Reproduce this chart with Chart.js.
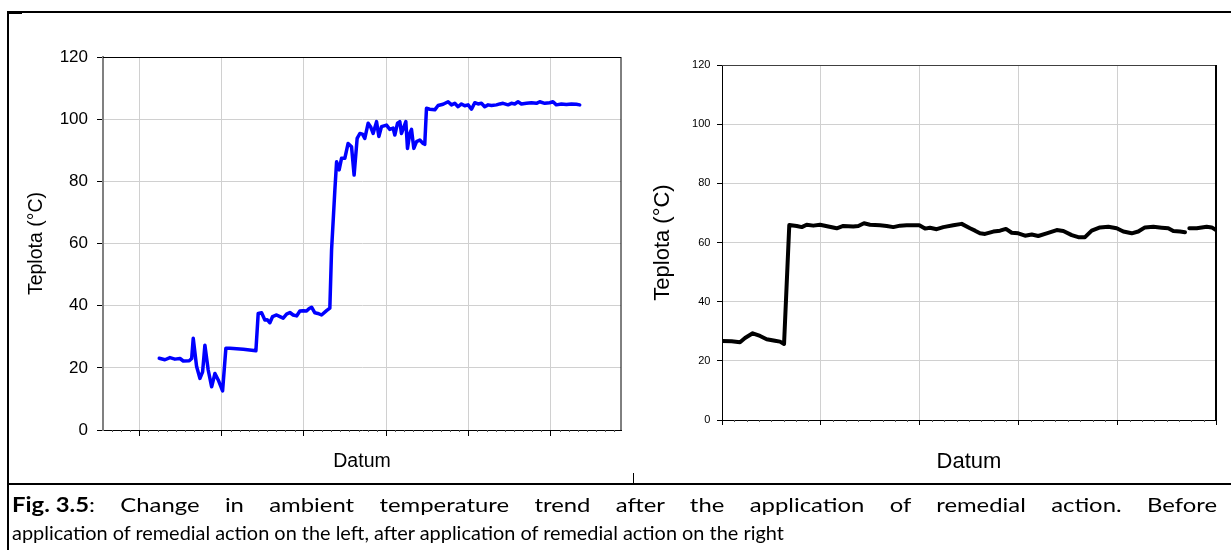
<!DOCTYPE html>
<html>
<head>
<meta charset="utf-8">
<script src="https://cdn.jsdelivr.net/npm/chart.js@4"></script>
<style>
  html, body { margin: 0; padding: 0; background: #fff; }
  body { width: 1231px; height: 550px; position: relative; overflow: hidden; }
  .ln { position: absolute; background: #000; }
  #cL { position: absolute; left: 0; top: 0; }
  #cR { position: absolute; left: 633px; top: 0; }
  .cap { position: absolute; left: 12px; font-family: Lato, "Open Sans", sans-serif;
         font-size: 20px; line-height: 27.6px; color: #000; transform-origin: 0 0; }
  #l1 { top: 491px; text-align: justify; text-align-last: justify; }
  #l1 b { display: inline-block; white-space: nowrap; }
  #l2 { top: 518.6px; text-align: left; white-space: nowrap; }
</style>
</head>
<body>
<canvas id="cL" width="633" height="484"></canvas>
<canvas id="cR" width="598" height="484"></canvas>
<div class="ln" style="left:7px;top:11px;width:1224px;height:2px"></div>
<div class="ln" style="left:7px;top:11px;width:15px;height:3px"></div>
<div class="ln" style="left:7px;top:11px;width:2px;height:539px"></div>
<div class="ln" style="left:7px;top:483px;width:1224px;height:2px"></div>
<div class="ln" style="left:633px;top:473px;width:1px;height:10px"></div>
<div class="cap" id="l1"><b>Fig. 3.5</b>: Change in ambient temperature trend after the application of remedial action. Before</div>
<div class="cap" id="l2">application of remedial action on the left, after application of remedial action on the right</div>
<script>
// ---------- data ----------
const yTicks = [0, 20, 40, 60, 80, 100, 120];
const xTicksLeft = [0, 1, 2, 3, 4, 5];
const xTicksRight = [0, 1, 2, 3, 4, 5];
const axisTitleY = "Teplota (°C)";
const axisTitleX = "Datum";

// Before remedial action (x in days, arbitrary origin)
const leftDays = [0.243,0.312,0.373,0.434,0.495,0.535,0.608,0.637,0.656,0.697,0.738,0.770,0.798,0.838,0.880,0.920,0.960,1.013,1.053,1.102,1.264,1.418,1.446,1.487,1.527,1.555,1.588,1.621,1.670,1.710,1.750,1.791,1.831,1.871,1.913,1.953,1.993,2.034,2.066,2.095,2.135,2.171,2.216,2.277,2.317,2.338,2.378,2.399,2.430,2.459,2.499,2.539,2.581,2.612,2.649,2.682,2.714,2.742,2.783,2.812,2.843,2.885,2.913,2.945,3.006,3.046,3.086,3.107,3.140,3.168,3.188,3.241,3.261,3.289,3.310,3.338,3.371,3.411,3.451,3.471,3.492,3.532,3.593,3.633,3.694,3.755,3.796,3.836,3.876,3.917,3.957,3.998,4.039,4.079,4.119,4.160,4.200,4.241,4.282,4.343,4.383,4.423,4.484,4.525,4.565,4.605,4.646,4.707,4.768,4.829,4.869,4.930,4.990,5.030,5.071,5.132,5.193,5.254,5.315,5.355];
const leftTemp = [23.1,22.6,23.3,22.8,23.0,22.2,22.3,23.0,29.5,20.4,16.6,18.7,27.3,19.3,13.9,18.2,16.1,12.6,26.3,26.3,26.0,25.5,37.5,37.7,35.4,35.5,34.5,36.5,37.0,36.5,36.0,37.3,37.8,37.0,36.7,38.3,38.4,38.3,39.1,39.5,37.7,37.5,37.0,38.4,39.2,57.9,77.2,86.3,83.7,87.4,87.4,92.2,91.1,82.0,93.8,95.4,95.2,93.8,98.7,97.6,95.4,99.2,94.4,97.6,98.1,96.7,97.1,94.9,98.7,99.2,95.4,99.2,90.6,95.4,96.7,90.6,92.8,93.3,92.2,91.9,103.5,103.2,103.0,104.4,104.8,105.6,104.6,105.1,104.0,104.9,104.3,104.6,103.2,105.3,104.9,105.1,104.0,104.6,104.4,104.6,104.9,105.1,104.6,105.1,104.9,105.6,104.9,105.1,105.3,105.1,105.6,105.1,105.3,105.6,104.6,104.9,104.7,104.9,104.8,104.6];

// After remedial action (null = gap in record)
const rightDays = [0.000,0.098,0.182,0.233,0.311,0.385,0.452,0.536,0.587,0.628,0.681,0.756,0.807,0.857,0.924,0.992,1.076,1.161,1.228,1.329,1.380,1.437,1.498,1.599,1.667,1.734,1.802,1.869,1.936,1.997,2.055,2.105,2.173,2.240,2.341,2.426,2.510,2.561,2.611,2.662,2.746,2.814,2.874,2.932,2.999,3.067,3.135,3.201,3.286,3.388,3.455,3.540,3.606,3.674,3.742,3.826,3.910,3.995,4.062,4.147,4.213,4.281,4.366,4.450,4.517,4.568,4.636,4.686,4.705,4.730,4.805,4.906,4.957,5.000];
const rightTemp = [26.7,26.6,26.3,27.7,29.3,28.4,27.3,26.8,26.5,25.7,65.9,65.6,65.2,66.0,65.7,66.0,65.4,64.8,65.6,65.4,65.6,66.5,66.0,65.8,65.6,65.2,65.7,65.8,65.8,65.8,64.7,65.0,64.5,65.2,65.8,66.3,64.8,64.0,63.1,62.9,63.7,64.0,64.6,63.3,63.1,62.3,62.7,62.2,63.1,64.2,63.9,62.5,61.8,61.8,64.0,65.1,65.3,64.8,63.7,63.1,63.7,65.1,65.3,65.0,64.8,63.9,63.7,63.5,null,64.8,64.8,65.3,65.1,64.2];

// ---------- helpers ----------
const FONT = "'Liberation Sans', Arial, sans-serif";

const framePlugin = {
  id: 'frame',
  afterDraw(chart, args, opts) {
    const {ctx, chartArea: a} = chart;
    const xs = chart.scales.x;
    ctx.save();
    ctx.strokeStyle = '#555';
    ctx.lineWidth = 1;
    const tk = xs.ticks.map(t => t.value);
    for (let i = 0; i < tk.length - 1 + (opts.extend ? 1 : 0); i++) {
      const v0 = tk[Math.min(i, tk.length - 1)];
      for (let k = 1; k < opts.minor; k++) {
        const v = v0 + k / opts.minor;
        if (v > xs.max || v < xs.min) continue;
        const px = Math.round(xs.getPixelForValue(v)) + 0.5;
        ctx.beginPath(); ctx.moveTo(px, a.bottom); ctx.lineTo(px, a.bottom + 2); ctx.stroke();
      }
    }
    for (let k = 1; k < opts.minor; k++) {
      const v = tk[0] - k / opts.minor;
      if (v < xs.min) break;
      const px = Math.round(xs.getPixelForValue(v)) + 0.5;
      ctx.beginPath(); ctx.moveTo(px, a.bottom); ctx.lineTo(px, a.bottom + 2); ctx.stroke();
    }
    ctx.strokeStyle = opts.topColor;
    ctx.lineWidth = 1;
    ctx.beginPath();
    ctx.moveTo(a.left, Math.round(a.top) + 0.5);
    ctx.lineTo(a.right, Math.round(a.top) + 0.5);
    ctx.stroke();
    ctx.strokeStyle = '#000';
    ctx.lineWidth = opts.rightWidth;
    ctx.beginPath();
    ctx.moveTo(a.right, a.top);
    ctx.lineTo(a.right, a.bottom);
    ctx.stroke();
    ctx.restore();
  }
};

function makeChart(id, cfg) {
  const xs = cfg.days.map((d, i) => ({x: d, y: cfg.temp[i]}));
  return new Chart(document.getElementById(id), {
    type: 'line',
    data: { datasets: [{
      data: xs, borderColor: cfg.color, borderWidth: cfg.lw, pointRadius: 0,
      tension: 0, spanGaps: false, borderJoinStyle: 'round', borderCapStyle: 'round', fill: false
    }]},
    options: {
      responsive: false, animation: false, devicePixelRatio: 1,
      layout: { padding: { left: 0, right: cfg.padRight, top: cfg.padTop, bottom: 0 } },
      plugins: { legend: { display: false }, tooltip: { enabled: false }, frame: cfg.frame },
      scales: {
        x: {
          type: 'linear', position: 'bottom', min: cfg.xmin, max: cfg.xmax,
          afterBuildTicks: s => { s.ticks = cfg.xTicks.map(v => ({value: v})); },
          afterFit: s => { s.height = cfg.xHeight; },
          ticks: { display: false },
          grid: { color: '#d0d0d0', lineWidth: 1, tickLength: cfg.tickLen, tickColor: '#000', drawTicks: true },
          border: { color: '#000', width: 1 },
          title: { display: true, text: axisTitleX, color: '#000',
                   font: { family: FONT, size: cfg.titleX }, padding: { top: 0, bottom: cfg.titleXPad } }
        },
        y: {
          min: 0, max: 120,
          afterBuildTicks: s => { s.ticks = yTicks.map(v => ({value: v})); },
          afterFit: s => { s.width = cfg.yWidth; },
          ticks: { color: '#000', font: { family: FONT, size: cfg.tickFont }, padding: cfg.tickPad },
          grid: { color: '#d0d0d0', lineWidth: 1, tickLength: cfg.tickLen, tickColor: '#000' },
          border: { color: cfg.yAxisColor, width: cfg.yAxisWidth },
          title: { display: true, text: axisTitleY, color: '#000',
                   font: { family: FONT, size: cfg.titleY }, padding: { top: cfg.titleYPad, bottom: 0 } }
        }
      }
    },
    plugins: [framePlugin]
  });
}

makeChart('cL', {
  days: leftDays, temp: leftTemp, color: '#0000ff', lw: 3.5,
  xmin: -0.441, xmax: 5.857, xTicks: xTicksLeft,
  padRight: 12, padTop: 57, xHeight: 54, yWidth: 103,
  tickLen: 6, tickFont: 17, tickPad: 9,
  titleX: 19.5, titleXPad: 10.3, titleY: 19.5, titleYPad: 25.3,
  yAxisColor: '#808080', yAxisWidth: 2,
  frame: { minor: 9, topColor: '#000', rightWidth: 1, extend: true }
});

makeChart('cR', {
  days: rightDays, temp: rightTemp, color: '#000000', lw: 4,
  xmin: 0, xmax: 5, xTicks: xTicksRight,
  padRight: 15, padTop: 65, xHeight: 64, yWidth: 89,
  tickLen: 5, tickFont: 11, tickPad: 6.6,
  titleX: 22, titleXPad: 8.8, titleY: 22, titleYPad: 16.8,
  yAxisColor: '#000', yAxisWidth: 1,
  frame: { minor: 8, topColor: '#404040', rightWidth: 2, extend: false }
});

// caption: fit the substitute font to the original line widths
(function () {
  const l1 = document.getElementById('l1');
  const l2 = document.getElementById('l2');
  const c = document.createElement('canvas').getContext('2d');
  c.font = "20px Lato";
  const w = c.measureText(l2.textContent).width;
  const s2 = 773 / w;
  const s1 = s2 * 1.2;
  l2.style.transform = 'scaleX(' + s2 + ')';
  l1.style.transform = 'scaleX(' + s1 + ')';
  l1.style.width = (1205 / s1) + 'px';
})();
</script>
</body>
</html>
